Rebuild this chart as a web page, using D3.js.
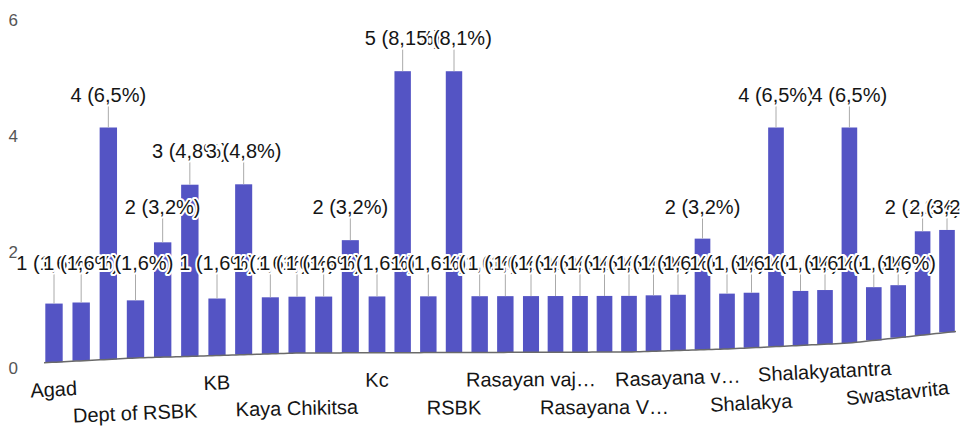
<!DOCTYPE html>
<html><head><meta charset="utf-8">
<script src="https://cdn.jsdelivr.net/npm/d3@7"></script>
<style>
html,body{margin:0;padding:0;background:#fff;overflow:hidden;}
svg{display:block;font-family:Arial,"Liberation Sans",sans-serif;}
</style></head><body>
<svg id="chart" width="960" height="434"></svg>
<script>
// ---- data ----
const categories = ["Agad","","","Dept of RSBK","","","KB","","","Kaya Chikitsa","","","Kc","","","RSBK","","","Rasayan vaj…","","","Rasayana V…","","","Rasayana v…","","","Shalakya","","","Shalakyatantra","","","Swastavrita","",""];
const values = [1,1,4,1,2,3,1,3,1,1,1,2,1,5,1,5,1,1,1,1,1,1,1,1,1,2,1,1,4,1,1,4,1,1,2,2];
const yTicks = [0,2,4,6];

// ---- layout ----
const svg = d3.select("#chart");
const barColor = "#5454c4";
const total = d3.sum(values);
const fmtPct = v => (v / total * 100).toFixed(1).replace(".", ",") + "%";

// x position of each bar (photo is slightly foreshortened to the right)
const x = d3.scaleLinear()
  .domain([0, 6, 12, 18, 24, 30, 35])
  .range([54, 217, 377, 531, 678, 825, 947]);

// baseline height varies across the photographed chart
const base = d3.scaleLinear()
  .domain([40, 135, 300, 630, 727, 850, 960])
  .range([363, 358, 353, 352, 349, 343, 331]);
const topLevel = 127.5; // y of value 4
const yAt = cx => d3.scaleLinear().domain([0, 4]).range([base(cx), topLevel]);
const yFlat = d3.scaleLinear().domain([0, 4]).range([352, topLevel]);

// y axis
const yAxisScale = d3.scaleLinear().domain([0, 6]).range([368, 20]);
const yAxis = svg.append("g").attr("transform", "translate(18,0)")
  .call(d3.axisLeft(yAxisScale).tickValues(yTicks).tickFormat(d3.format("d")).tickSize(0).tickPadding(0));
yAxis.select(".domain").remove();
yAxis.selectAll("text").attr("font-size", 17).attr("fill", "#555")
  .attr("font-family", "Arial, 'Liberation Sans', sans-serif").attr("dy", "0.35em");

const idx = d3.range(values.length);
const spacing = i => (x(Math.min(i + 1, values.length - 1)) - x(Math.max(i - 1, 0))) / (i === 0 || i === values.length - 1 ? 1 : 2);

// bars
svg.append("g").selectAll("rect").data(idx).join("rect")
  .attr("x", i => x(i) - spacing(i) * 0.32)
  .attr("width", i => spacing(i) * 0.64)
  .attr("y", i => yAt(x(i))(values[i]))
  .attr("height", i => base(x(i)) - yAt(x(i))(values[i]))
  .attr("fill", barColor);

// baseline
const bx = d3.range(44, 957, 4);
svg.append("path")
  .attr("d", d3.line().x(d => d).y(d => base(d))(bx))
  .attr("fill", "none").attr("stroke", "#6a6a6a").attr("stroke-width", 1.5);

// annotations
const ann = svg.append("g");
idx.forEach(i => {
  const cx = x(i), v = values[i];
  const cy = yFlat(v) - 33;
  ann.append("line")
    .attr("x1", cx).attr("x2", cx)
    .attr("y1", cy + 11).attr("y2", yAt(cx)(v))
    .attr("stroke", "#aaa").attr("stroke-width", 1);
  ann.append("text")
    .attr("x", cx).attr("y", cy + 7)
    .attr("text-anchor", "middle")
    .attr("font-size", 20)
    .attr("fill", "#151515")
    .attr("stroke", "#fff").attr("stroke-width", 4)
    .attr("paint-order", "stroke")
    .attr("stroke-linejoin", "round")
    .text(v + " (" + fmtPct(v) + ")");
});

// category labels (every third, two rows)
const xl = svg.append("g");
idx.filter(i => i % 3 === 0).forEach((i, k) => {
  const cx = x(i);
  const yy = base(cx) + (k % 2 === 0 ? 27 : 55) + 7;
  const ang = Math.atan2(base(cx + 10) - base(cx - 10), 20) * 180 / Math.PI;
  xl.append("text")
    .attr("x", cx).attr("y", yy)
    .attr("text-anchor", "middle")
    .attr("font-size", 20)
    .attr("fill", "#151515")
    .attr("transform", `rotate(${ang},${cx},${yy})`)
    .text(categories[i]);
});
</script>
</body></html>
